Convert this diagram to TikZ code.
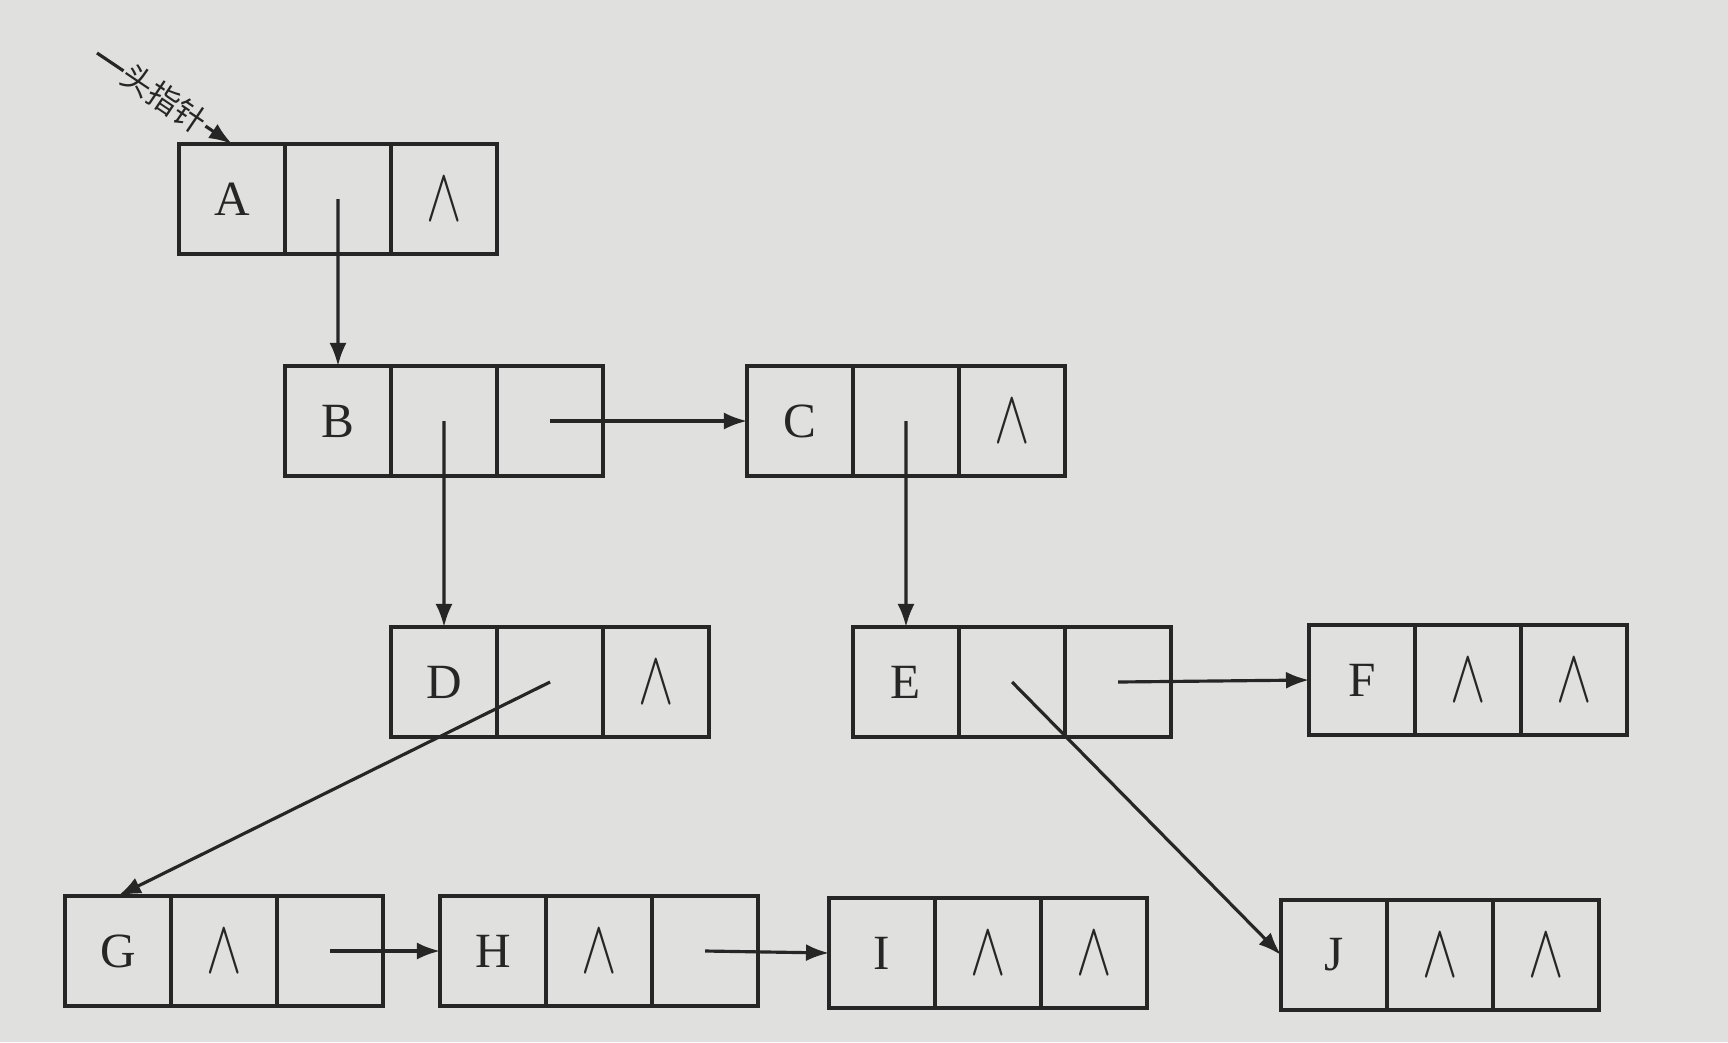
\documentclass[tikz,border=0pt]{standalone}
\usepackage{fontspec}
\setmainfont{Liberation Serif}
\newfontfamily\cjk{Noto Sans CJK SC}
\usepackage{xcolor}
\usetikzlibrary{arrows.meta, positioning}
\definecolor{paper}{RGB}{224,224,222}
\definecolor{ink}{RGB}{38,38,38}
\newcommand{\emptyptr}{\scalebox{1.05}[1.5]{$\wedge$}}
\tikzset{
  cell/.style = {draw = ink, line width = 1pt, minimum width = 1.06cm,
                 minimum height = 1.1cm, inner sep = 0pt, outer sep = 0pt,
                 text = ink, font = \fontsize{14}{16}\selectfont},
  ptr/.style  = {-{Latex[length=2.3mm, width=1.7mm]}, draw = ink, line width = 0.9pt}
}

\begin{document}
\begin{tikzpicture}[x = 0.01cm, y = -0.01cm]
	\fill[paper] (0,0) rectangle (1728,1042);
	% one record = data | first child | next sibling
	\foreach \n/\x/\y/\p/\q in {A/232/199/{}/\emptyptr, B/338/421/{}/{}, C/800/421/{}/\emptyptr,
			D/444/682/{}/\emptyptr, E/906/682/{}/{}, F/1362/680/\emptyptr/\emptyptr,
			G/118/951/\emptyptr/{}, H/493/951/\emptyptr/{}, I/882/953/\emptyptr/\emptyptr,
			J/1334/955/\emptyptr/\emptyptr} {
		\node[cell] (\n1) at (\x,\y) {\n};
		\node[cell, right = 0pt of \n1] (\n2) {\p};
		\node[cell, right = 0pt of \n2] (\n3) {\q};
	}
	\coordinate (hp) at (97,53);
	\draw[ptr] (hp) -- node[sloped, fill = paper, inner sep = 0.5pt, text = ink,
		font = \cjk\fontsize{9}{9}\selectfont] {头指针} (A1.north);
	\draw[ptr] (A2.center) -- (B1.north);
	\draw[ptr] (B2.center) -- (D1.north);
	\draw[ptr] (B3.center) -- (C1.west);
	\draw[ptr] (C2.center) -- (E1.north);
	\draw[ptr] (D2.center) -- (G1.north);
	\draw[ptr] (E2.center) -- (J1.west);
	\draw[ptr] (E3.center) -- (F1.west);
	\draw[ptr] (G3.center) -- (H1.west);
	\draw[ptr] (H3.center) -- (I1.west);
\end{tikzpicture}
\end{document}
